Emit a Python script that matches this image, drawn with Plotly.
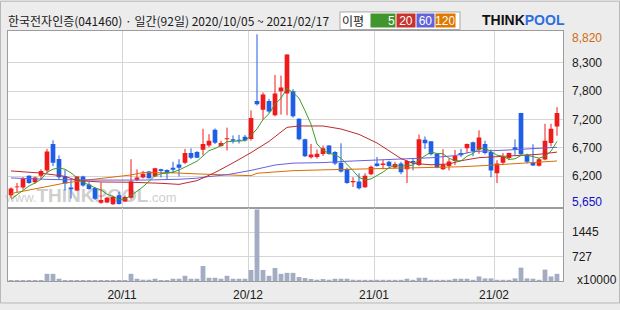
import pandas as pd
import plotly.graph_objects as go

# ---------------- data ----------------
holidays = ["2020-10-09", "2020-12-25", "2020-12-31", "2021-01-01", "2021-02-11", "2021-02-12"]
dates = [d for d in pd.bdate_range("2020-10-05", "2021-02-17") if d.strftime("%Y-%m-%d") not in holidays]

opens = [5830, 5975, 5970, 6190, 6068, 6190, 6290, 6780, 6500, 6180,
         5970, 5917, 6177, 6026, 5965, 5690, 5692, 5660, 5826, 5710,
         5783, 6117, 6158, 6268, 6177, 6310, 6298, 6340, 6400, 6431,
         6612, 6631, 6672, 6752, 7048, 6745, 6870, 6867, 6860, 6915,
         6873, 7580, 7417, 7580, 7315, 7762, 7720, 7762, 7248, 6867,
         6534, 6540, 6594, 6752, 6631, 6431, 6316, 6068, 6086, 5977,
         6219, 6418, 6389, 6449, 6346, 6418, 6310, 6467, 6389, 6861,
         6830, 6600, 6310, 6371, 6467, 6612, 6703, 6812, 6672, 6781,
         6631, 6237, 6431, 6522, 6721, 7357, 6582, 6431, 6376, 6491,
         6800, 7108]
highs = [5975, 6055, 6165, 6200, 6175, 6310, 6690, 6850, 6570, 6300,
         6120, 6180, 6190, 6070, 5975, 6068, 5800, 5820, 5890, 5810,
         6498, 6310, 6280, 6280, 6340, 6320, 6310, 6449, 6498, 6690,
         6700, 6650, 7066, 6963, 7070, 6840, 7085, 6940, 6950, 6950,
         7406, 8820, 7740, 7620, 8065, 8053, 8447, 7800, 7260, 6880,
         6781, 6680, 6752, 6760, 6650, 6794, 6340, 6164, 6237, 6237,
         6380, 6540, 6490, 6470, 6449, 6449, 6480, 6522, 6958, 6921,
         6830, 6610, 6685, 6510, 6672, 6690, 6790, 6825, 7036, 6842,
         6680, 6480, 6612, 6620, 6867, 7360, 6600, 6776, 6520, 7157,
         7157, 7466]
lows = [5780, 5875, 5935, 6040, 6040, 6115, 6240, 6370, 6120, 5917,
        5765, 5905, 5985, 5930, 5740, 5670, 5680, 5650, 5655, 5700,
        5753, 6090, 6140, 6140, 6170, 6160, 6117, 6237, 6177, 6407,
        6500, 6520, 6570, 6721, 6780, 6730, 6661, 6790, 6790, 6830,
        6843, 7497, 7236, 7360, 7297, 7327, 7315, 7270, 6850, 6540,
        6509, 6509, 6558, 6580, 6390, 6250, 6040, 5982, 5935, 5965,
        6200, 6358, 6310, 6350, 6330, 6219, 6055, 6290, 6371, 6690,
        6570, 6330, 6298, 6290, 6389, 6540, 6610, 6552, 6600, 6590,
        6164, 6055, 6389, 6480, 6570, 6570, 6420, 6371, 6360, 6480,
        6734, 6934]
closes = [5955, 5985, 6130, 6055, 6158, 6280, 6640, 6430, 6165, 6045,
          5940, 6177, 6008, 5946, 5764, 5740, 5783, 5800, 5665, 5795,
          6086, 6160, 6226, 6146, 6328, 6280, 6237, 6300, 6340, 6612,
          6527, 6527, 6781, 6842, 6806, 6800, 6890, 6843, 6840, 6845,
          7266, 7520, 7702, 7387, 7720, 7830, 8447, 7297, 6867, 6552,
          6588, 6600, 6704, 6594, 6419, 6268, 6055, 6093, 5959, 6189,
          6358, 6371, 6418, 6371, 6407, 6255, 6467, 6431, 6867, 6794,
          6589, 6346, 6400, 6455, 6558, 6570, 6781, 6649, 6903, 6612,
          6286, 6418, 6540, 6612, 6672, 6589, 6449, 6382, 6498, 6843,
          7066, 7357]
volume = [30, 30, 30, 30, 30, 30, 212, 212, 67,
          30, 30, 30, 30, 30, 30, 30, 30, 30, 30, 30, 212,
          67, 38, 38, 67, 30, 30, 67, 67, 154,
          67, 67, 443, 96, 96, 67, 154, 67, 67, 67,
          327, 2119, 327, 154, 385, 212, 241, 241, 116, 87,
          58, 38, 58, 38, 67, 67, 67, 38,
          35, 35, 35, 35, 35, 35, 35, 35,
          67, 35, 96, 96, 35, 35, 35, 35,
          67, 67, 67, 35, 135, 77, 77, 35, 35, 35,
          77, 395, 77, 67, 35, 337, 135, 212]

ma5 = [5755, 5840, 5930, 6000,
       6057, 6122, 6253, 6313, 6335, 6312, 6244, 6151, 6067, 6023,
       5967, 5927, 5848, 5807, 5750, 5757, 5826, 5901, 5986, 6083,
       6189, 6228, 6243, 6258, 6297, 6354, 6403, 6461, 6557, 6658,
       6697, 6751, 6824, 6836, 6836, 6844, 6937, 7063, 7235, 7344,
       7519, 7632, 7817, 7736, 7632, 7399, 7150, 6781, 6662, 6608,
       6581, 6517, 6408, 6286, 6159, 6113, 6131, 6194, 6259, 6341,
       6385, 6364, 6384, 6386, 6485, 6563, 6630, 6605, 6599, 6517,
       6470, 6466, 6553, 6603, 6692, 6703, 6646, 6574, 6552, 6494,
       6506, 6566, 6572, 6541, 6518, 6552, 6648, 6829]
ma20_idx = [0, 5, 9, 11, 15, 20, 25, 28, 31, 34, 37, 40, 43, 46, 48, 52, 55, 58, 61, 63,
            65, 67, 70, 73, 75, 78, 81, 85, 88, 91]
ma20_val = [6280, 6240, 6180, 6100, 6075, 6070, 6050, 6030, 6100, 6250, 6430, 6620, 6830, 7090,
            7116, 7116, 7060, 6960, 6800, 6660, 6510, 6420, 6395, 6410, 6470, 6527, 6540, 6570,
            6590, 6630]
ma60_idx = [0, 7, 15, 22, 28, 31, 33, 36, 40, 44, 47, 52, 56, 61, 66, 70, 74, 77, 83, 91]
ma60_val = [6150, 6120, 6110, 6110, 6125, 6145, 6175, 6210, 6290, 6390, 6425, 6435, 6460, 6480,
            6500, 6525, 6565, 6640, 6670, 6720]
ma120_idx = [0, 4, 9, 13, 17, 20, 22, 27, 31, 36, 40, 41, 47, 52, 58, 63, 70, 75, 79, 83, 87, 91]
ma120_val = [5860, 5950, 6055, 6115, 6160, 6205, 6250, 6245, 6225, 6200, 6192, 6237, 6285, 6300,
             6315, 6327, 6340, 6358, 6380, 6410, 6430, 6465]

price_max = 8820
price_min = 5650
vol_labels = ["1445", "727"]
vol_unit = "x10000"
title = "한국전자인증(041460) · 일간(92일) 2020/10/05 ~ 2021/02/17"
ma_names = ["5", "20", "60", "120"]

# ---------------- geometry / style ----------------
W, H = 620, 310
L, R, T, B = 8, 57, 31, 23
PW, PH = W - L - R, H - T - B
VOL_PX = 75
vol_frac = VOL_PX / PH


def px(x):
    return (x - L) / PW


def py(y):
    return (H - B - y) / PH


UP, DOWN = "#f01a1a", "#1f5fe6"
MA_COLORS = ["#3f9a2a", "#be2a2a", "#6a5ee0", "#d86e00"]
LEG_COLORS = ["#40962c", "#c8322d", "#6262d8", "#e07800"]
GRID = "#d6d6d6"
FRAME = "#9c9c9c"
NUMFONT = "Liberation Sans"
KFONT = "Noto Sans CJK KR"

x = list(range(len(dates)))
month_starts = [i for i in range(1, len(dates)) if dates[i].month != dates[i - 1].month]
grid_x = [i - 0.5 for i in month_starts]
grid_text = [dates[i].strftime("%y/%m") for i in month_starts]

step = (price_max - price_min) / 6
price_grid = [price_min + k * step for k in range(1, 6)]
price_grid_text = [f"{int(round(v, -2)):,}" for v in price_grid]

price_px = PH - VOL_PX
y_lo = price_min - 3 * (price_max - price_min) / 174.6
y_hi = y_lo + price_px * (price_max - price_min) / 174.6
vol_hi = 2167.5

fig = go.Figure()

body_base = [min(o, c) for o, c in zip(opens, closes)]
body_h = [max(abs(c - o), 16) for o, c in zip(opens, closes)]
cols = [UP if c >= o else DOWN for o, c in zip(opens, closes)]

for color in (UP, DOWN):
    wx, wy = [], []
    for i in x:
        if cols[i] == color:
            wx += [i, i, None]
            wy += [lows[i], highs[i], None]
    fig.add_trace(go.Scatter(x=wx, y=wy, mode="lines", line=dict(color=color, width=1),
                             xaxis="x", yaxis="y", hoverinfo="skip"))

fig.add_trace(go.Bar(x=x, y=body_h, base=body_base, marker=dict(color=cols, line=dict(width=0)),
                     width=0.78, xaxis="x", yaxis="y", hoverinfo="skip"))

fig.add_trace(go.Scatter(x=ma120_idx, y=ma120_val, mode="lines",
                         line=dict(color=MA_COLORS[3], width=1), xaxis="x", yaxis="y"))
fig.add_trace(go.Scatter(x=ma60_idx, y=ma60_val, mode="lines",
                         line=dict(color=MA_COLORS[2], width=1), xaxis="x", yaxis="y"))
fig.add_trace(go.Scatter(x=ma20_idx, y=ma20_val, mode="lines",
                         line=dict(color=MA_COLORS[1], width=1), xaxis="x", yaxis="y"))
fig.add_trace(go.Scatter(x=x, y=ma5, mode="lines",
                         line=dict(color=MA_COLORS[0], width=1), xaxis="x", yaxis="y"))

fig.add_trace(go.Bar(x=x, y=volume, marker=dict(color="#a3acc2", line=dict(width=0)),
                     width=0.8, xaxis="x2", yaxis="y2", hoverinfo="skip"))

axis_common = dict(showline=True, mirror=True, linecolor=FRAME, linewidth=1,
                   showgrid=True, gridcolor=GRID, gridwidth=1, zeroline=False,
                   fixedrange=True)

fig.update_layout(
    width=W, height=H,
    margin=dict(l=L, r=R, t=T, b=B, pad=0),
    paper_bgcolor="#ececec", plot_bgcolor="#ffffff",
    showlegend=False, hovermode=False, barmode="overlay",
    xaxis=dict(range=[-0.5, 92.0], tickvals=grid_x, showticklabels=False, ticks="",
               anchor="y", **axis_common),
    xaxis2=dict(range=[-0.5, 92.0], tickvals=grid_x, ticktext=grid_text, ticks="",
                anchor="y2", matches="x", ticklabelstandoff=3,
                tickfont=dict(family=NUMFONT, size=12, color="#1a1a1a"), **axis_common),
    yaxis=dict(domain=[vol_frac, 1], range=[y_lo, y_hi], tickvals=price_grid,
               showticklabels=False, ticks="", anchor="x", **axis_common),
    yaxis2=dict(domain=[0, vol_frac], range=[0, vol_hi], tickvals=[vol_hi / 3, 2 * vol_hi / 3],
                showticklabels=False, ticks="", anchor="x2", **axis_common),
)

ann = []
for v, t in zip(price_grid, price_grid_text):
    ann.append(dict(x=1, xref="paper", xanchor="left", xshift=7, y=v, yref="y",
                    yanchor="middle", text=t, showarrow=False,
                    font=dict(family=NUMFONT, size=12, color="#1a1a1a")))
ann.append(dict(x=1, xref="paper", xanchor="left", xshift=7, y=py(38.5), yref="paper",
                yanchor="middle", text=f"{price_max:,}", showarrow=False,
                font=dict(family=NUMFONT, size=12, color="#d26a10")))
ann.append(dict(x=1, xref="paper", xanchor="left", xshift=7, y=py(206.5), yref="paper",
                yanchor="middle", text=f"{price_min:,}", showarrow=False,
                font=dict(family=NUMFONT, size=12, color="#1010c8")))
for v, t in zip([2 * vol_hi / 3, vol_hi / 3], vol_labels):
    ann.append(dict(x=1, xref="paper", xanchor="left", xshift=7, y=v, yref="y2",
                    yanchor="middle", text=t, showarrow=False,
                    font=dict(family=NUMFONT, size=12, color="#1a1a1a")))
ann.append(dict(x=px(575), xref="paper", xanchor="left", y=py(286), yref="paper",
                yanchor="middle", text=vol_unit, showarrow=False,
                font=dict(family=NUMFONT, size=12, color="#1a1a1a")))
ann.append(dict(x=px(6), xref="paper", xanchor="left", y=py(20.5), yref="paper",
                yanchor="middle", text=title, showarrow=False,
                font=dict(family=KFONT, size=12, color="#1a1a1a")))
ann.append(dict(x=px(353), xref="paper", xanchor="center", y=py(20.5), yref="paper",
                yanchor="middle", text="이평", showarrow=False,
                font=dict(family=KFONT, size=12, color="#1a1a1a")))
leg_pos = [(370.5, 395.5), (396.5, 415.5), (416.5, 434.5), (435.5, 455)]
for (a, b), name, c in zip(leg_pos, ma_names, LEG_COLORS):
    ann.append(dict(x=px((a + b) / 2), xref="paper", xanchor="center", y=py(20), yref="paper",
                    yanchor="middle", text=name, showarrow=False, bgcolor=c,
                    width=b - a - 1, height=13, align="right" if name == "5" else "center",
                    borderpad=0,
                    font=dict(family=NUMFONT, size=12, color="#ffffff")))
ann.append(dict(x=px(480), xref="paper", xanchor="left", y=py(20), yref="paper",
                yanchor="middle",
                text="<b>THINK</b><b><span style='color:#2c6fe0'>POOL</span></b>",
                showarrow=False, font=dict(family=NUMFONT, size=14, color="#111111")))
fig.update_layout(annotations=ann)

shapes = [
    dict(type="rect", xref="paper", yref="paper", x0=px(0.5), x1=px(619.5), y0=py(309.5),
         y1=py(0.5), line=dict(color="#b8b8b8", width=1), fillcolor="rgba(0,0,0,0)",
         layer="below"),
    dict(type="rect", xref="paper", yref="paper", x0=px(340), x1=px(460), y0=py(29.5),
         y1=py(11.5), line=dict(color="#a8a8a8", width=1), fillcolor="#ffffff", layer="below"),
    dict(type="rect", xref="paper", yref="paper", x0=px(20), x1=px(162), y0=py(212),
         y1=py(195), line=dict(width=0), fillcolor="rgba(0,0,0,0)", layer="below",
         label=dict(text="www.<b><span style='font-size:19px'>THINKPOOL</span></b>.com",
                    font=dict(family=NUMFONT, size=13, color="#cfcfcf"),
                    textposition="middle center")),
]
fig.update_layout(shapes=shapes)

fig.write_html("out.html", config={"displayModeBar": False, "staticPlot": True})
